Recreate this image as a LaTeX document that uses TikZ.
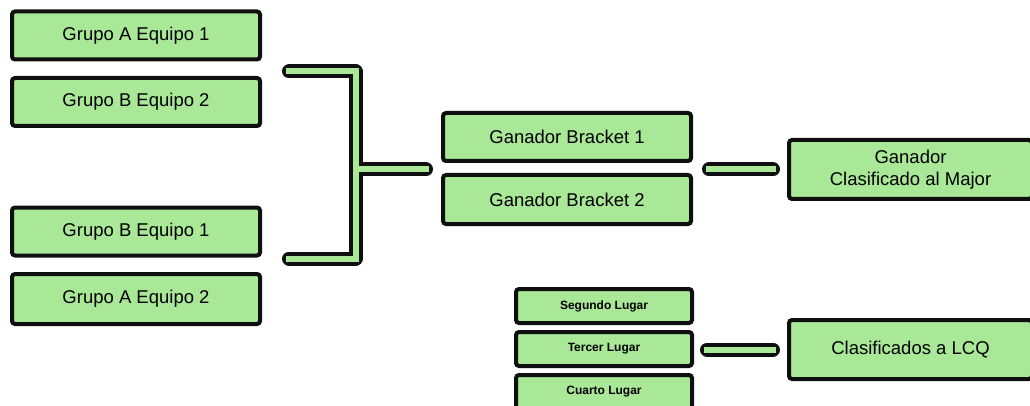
\documentclass[tikz,border=0pt]{standalone}
\usepackage{fontspec}
\setmainfont{Liberation Sans}
\definecolor{boxgreen}{RGB}{168,232,150}
\definecolor{inkblack}{RGB}{15,15,15}
\tikzset{teambox/.style = {draw=inkblack, fill=boxgreen, line width=4pt,
                           rounded corners=3pt, minimum width=248pt,
                           minimum height=48pt, inner sep=0pt,
                           font=\fontsize{18.5}{22}\selectfont, align=center}}
\tikzset{placebox/.style = {teambox, minimum width=176pt, minimum height=34pt,
                            font=\fontsize{12}{14}\selectfont\bfseries}}
\tikzset{linkout/.style = {draw=inkblack, line width=14pt, line cap=round,
                           line join=round}}
\tikzset{linkin/.style = {draw=boxgreen, line width=6pt, line cap=rect,
                          line join=miter}}

\begin{document}
\begin{tikzpicture}[x=1pt, y=-1pt]
    \useasboundingbox (0,0) rectangle (1030,406);
    \clip (0,0) rectangle (1030,406);

    % Teams of the groups
    \node [teambox] (gA1) at (136, 35.5) {Grupo A Equipo 1};
    \node [teambox] (gB2) at (136, 102) {Grupo B Equipo 2};
    \node [teambox] (gB1) at (136, 231.5) {Grupo B Equipo 1};
    \node [teambox, minimum height=50pt] (gA2) at (136, 299) {Grupo A Equipo 2};

    % Bracket winners and final
    \node [teambox] (win1) at (567, 137) {Ganador Bracket 1};
    \node [teambox, minimum height=49pt] (win2) at (567, 199.5) {Ganador Bracket 2};
    \node [teambox, minimum height=59pt, minimum width=243pt] (major)
        at (910.5, 169.5) {Ganador\\Clasificado al Major};

    % Places and LCQ
    \node [placebox] (second) at (604, 306) {Segundo Lugar};
    \node [placebox] (third) at (604, 349) {Tercer Lugar};
    \node [placebox] (fourth) at (604, 392) {Cuarto Lugar};
    \node [teambox, minimum height=59pt, minimum width=243pt] (lcq)
        at (910.5, 349.5) {Clasificados a LCQ};

    % Connector ends
    \coordinate (brTop) at (289, 71.5);
    \coordinate (brBot) at (289, 258.5);
    \coordinate (brCornerTop) at (355.5, 71.5);
    \coordinate (brCornerBot) at (355.5, 258.5);
    \coordinate (brMid) at (360, 169.5);
    \coordinate (brOut) at (426, 169.5);
    \coordinate (finIn) at (709, 169.5);
    \coordinate (finOut) at (773, 169.5);
    \coordinate (lcqIn) at (707, 349.5);
    \coordinate (lcqOut) at (773, 349.5);

    % Black outlines
    \draw [linkout] (brTop) -- (brCornerTop) -- (brCornerBot) -- (brBot);
    \draw [linkout] (brMid) -- (brOut);
    \draw [linkout] (finIn) -- (finOut);
    \draw [linkout] (lcqIn) -- (lcqOut);

    % Green fill of the connectors
    \draw [linkin] (brTop) -- (brCornerTop) -- (brCornerBot) -- (brBot);
    \draw [linkin] (brMid) -- (brOut);
    \draw [linkin] (finIn) -- (finOut);
    \draw [linkin] (lcqIn) -- (lcqOut);
\end{tikzpicture}
\end{document}
